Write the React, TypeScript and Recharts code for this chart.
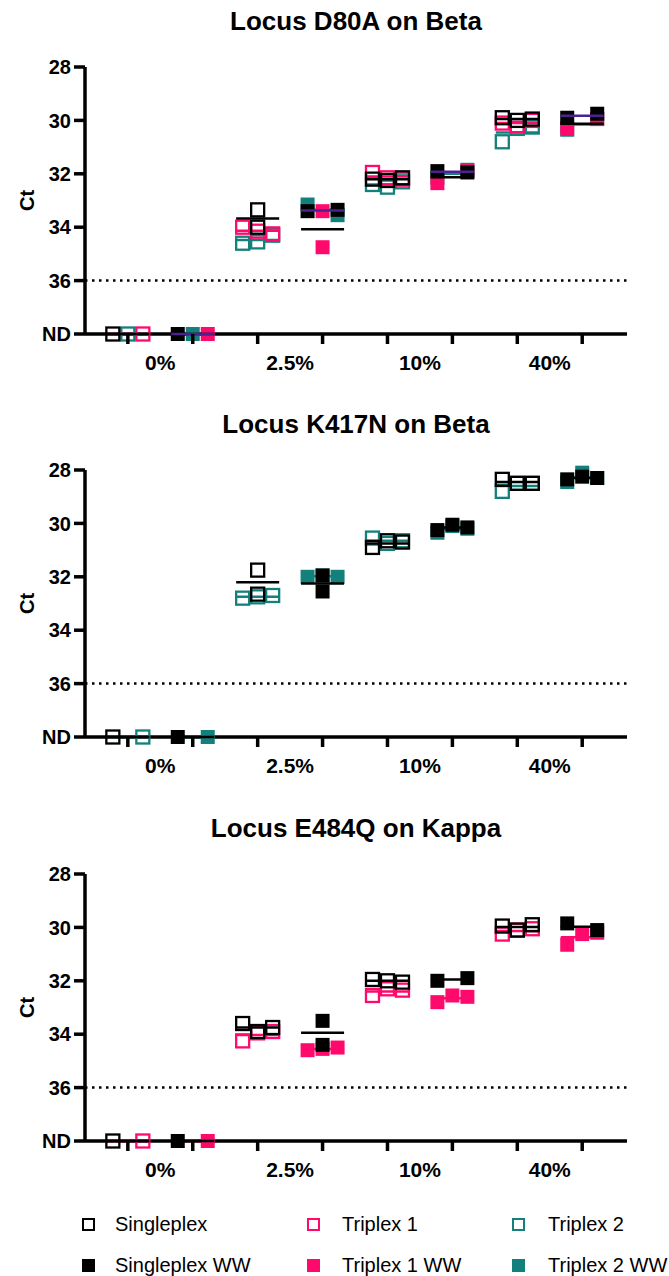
import React from "react";
import { ScatterChart, Scatter, XAxis, YAxis, ReferenceLine } from "recharts";

const categories = ["0%", "2.5%", "10%", "40%"];
const ND = 38;
const yTicks = [28, 30, 32, 34, 36, 38];
const cutoffCt = 36;

// Locus D80A on Beta  (one list per concentration)
const d80aSingleplex = [[ND], [34.0, 33.35], [32.2, 32.25, 32.15], [29.9, 30.0, 29.95]];
const d80aTriplex1 = [[ND], [34.0, 34.15, 34.25], [31.95, 32.15, 32.2], [30.1, 30.2, 30.0]];
const d80aTriplex2 = [[ND], [34.6, 34.55, 34.3], [32.4, 32.5, 32.3], [30.8, 30.3, 30.25]];
const d80aSingleplexWW = [[ND], [33.4, 33.35], [31.9, 31.95], [29.9, 29.75]];
const d80aTriplex1WW = [[ND], [33.4, 34.75], [32.35, 31.9], [30.3, 29.95]];
const d80aTriplex2WW = [[ND], [33.15, 33.55], [32.15, 31.85], [30.35, 29.95]];

// Locus K417N on Beta
const k417nSingleplex = [[ND], [31.75, 32.65], [30.9, 30.65, 30.7], [28.35, 28.5, 28.5]];
const k417nTriplex2 = [[ND], [32.8, 32.75, 32.7], [30.55, 30.75, 30.65], [28.8, 28.5, 28.5]];
const k417nSingleplexWW = [[ND], [31.95, 32.55], [30.25, 30.05, 30.15], [28.35, 28.25, 28.3]];
const k417nTriplex2WW = [[ND], [32.0, 31.95, 32.0], [30.35, 30.1, 30.2], [28.45, 28.1, 28.3]];

// Locus E484Q on Kappa
const e484qSingleplex = [[ND], [33.6, 33.9, 33.75], [31.95, 32.0, 32.05], [29.95, 30.1, 29.9]];
const e484qTriplex1 = [[ND], [34.25, 33.95, 33.9], [32.55, 32.3, 32.35], [30.25, 30.1, 30.05]];
const e484qSingleplexWW = [[ND], [33.5, 34.4], [32.0, 31.9], [29.85, 30.1]];
const e484qTriplex1WW = [[ND], [34.6, 34.55, 34.5], [32.8, 32.55, 32.6], [30.65, 30.25, 30.2]];

const BLACK = "#000000";
const PINK = "#ff0a6c";
const TEAL = "#13807c";
const PURPLE = "#4a2391";

const seriesMeta: Record<string, { name: string; color: string; ww: boolean }> = {
  singleplex: { name: "Singleplex", color: BLACK, ww: false },
  triplex1: { name: "Triplex 1", color: PINK, ww: false },
  triplex2: { name: "Triplex 2", color: TEAL, ww: false },
  singleplexWW: { name: "Singleplex WW", color: BLACK, ww: true },
  triplex1WW: { name: "Triplex 1 WW", color: PINK, ww: true },
  triplex2WW: { name: "Triplex 2 WW", color: TEAL, ww: true },
};
const legendRows = [
  ["singleplex", "triplex1", "triplex2"],
  ["singleplexWW", "triplex1WW", "triplex2WW"],
];
// side by side order for the ND points, and the drawing order (last on top)
const ndOrder = ["singleplex", "triplex2", "triplex1"];
const drawOrder = ["triplex2", "triplex2WW", "triplex1", "triplex1WW", "singleplex", "singleplexWW"];

const panels = [
  {
    title: "Locus D80A on Beta",
    top: 0,
    series: {
      singleplex: d80aSingleplex, triplex1: d80aTriplex1, triplex2: d80aTriplex2,
      singleplexWW: d80aSingleplexWW, triplex1WW: d80aTriplex1WW, triplex2WW: d80aTriplex2WW,
    } as Record<string, number[][]>,
    meanColors: { singleplexWW: PURPLE, triplex1WW: BLACK } as Record<string, string>,
  },
  {
    title: "Locus K417N on Beta",
    top: 403,
    series: {
      singleplex: k417nSingleplex, triplex2: k417nTriplex2,
      singleplexWW: k417nSingleplexWW, triplex2WW: k417nTriplex2WW,
    } as Record<string, number[][]>,
    meanColors: {} as Record<string, string>,
  },
  {
    title: "Locus E484Q on Kappa",
    top: 807,
    series: {
      singleplex: e484qSingleplex, triplex1: e484qTriplex1,
      singleplexWW: e484qSingleplexWW, triplex1WW: e484qTriplex1WW,
    } as Record<string, number[][]>,
    meanColors: {} as Record<string, string>,
  },
];

// x: subcolumn index (0..7), two per concentration (plain, WW)
const X_DOMAIN = [-0.66, 7.69];
const STEP = 0.231; // ~15px, one marker width
const xTicks = [0, 0.5, 1, 2, 2.5, 3, 4, 4.5, 5, 6, 6.5, 7];

const spread = (n: number) =>
  n === 1 ? [0] : Array.from({ length: n }, (_, i) => -1 + (2 * i) / (n - 1));

// crude beeswarm: close values of one series are put side by side
function swarm(values: number[]) {
  const order = values.map((_, i) => i).sort((a, b) => values[a] - values[b]);
  const offs = new Array(values.length).fill(0);
  let cluster: number[] = [];
  const flush = () => {
    const members = [...cluster].sort((a, b) => a - b);
    const s = spread(members.length);
    members.forEach((m, k) => (offs[m] = s[k]));
    cluster = [];
  };
  order.forEach((i) => {
    if (cluster.length && values[i] - values[cluster[cluster.length - 1]] >= 0.55) flush();
    cluster.push(i);
  });
  if (cluster.length) flush();
  return offs;
}

function layout(series: Record<string, number[][]>) {
  const points: Record<string, { x: number; y: number }[]> = {};
  const means: Record<string, { x: number; y: number }[]> = {};
  Object.keys(series).forEach((k) => {
    points[k] = [];
    means[k] = [];
  });
  categories.forEach((_, c) => {
    ["", "WW"].forEach((suf, w) => {
      const sub = 2 * c + w;
      const ndKeys = ndOrder.map((b) => b + suf).filter((k) => series[k] && series[k][c].includes(ND));
      const s = spread(ndKeys.length);
      ndKeys.forEach((k, i) => points[k].push({ x: sub + s[i] * STEP, y: ND }));
      Object.keys(series)
        .filter((k) => seriesMeta[k].ww === (w === 1))
        .forEach((k) => {
          const vals = series[k][c];
          const real = vals.filter((v) => v !== ND);
          const offs = swarm(real);
          real.forEach((v, i) => points[k].push({ x: sub + offs[i] * STEP, y: v }));
          const mean = vals.reduce((a, b) => a + b, 0) / vals.length;
          means[k].push({ x: sub, y: mean });
        });
    });
  });
  return { points, means };
}

const squareShape = (color: string, filled: boolean) => (p: any) =>
  filled ? (
    <rect x={p.cx - 7} y={p.cy - 7} width={14} height={14} fill={color} />
  ) : (
    <rect x={p.cx - 6.5} y={p.cy - 6.5} width={13} height={13} fill="none" stroke={color} strokeWidth={2.3} />
  );

const meanShape = (color: string) => (p: any) =>
  <line x1={p.cx - 21.5} x2={p.cx + 21.5} y1={p.cy} y2={p.cy} stroke={color} strokeWidth={2.5} />;

const XTick = (props: any) => {
  const { x, y, payload } = props;
  const v = payload.value;
  if (Number.isInteger(v)) {
    return <line x1={x} x2={x} y1={y - 10} y2={y} stroke="#000" strokeWidth={3.5} />;
  }
  return (
    <text x={x} y={y + 26} textAnchor="middle" fontSize={21} fontWeight={700} fill="#000">
      {categories[(v - 0.5) / 2]}
    </text>
  );
};

const Panel = ({ panel }: { panel: (typeof panels)[number] }) => {
  const { points, means } = layout(panel.series);
  const keys = drawOrder.filter((k) => panel.series[k]);
  return (
    <div style={{ position: "absolute", left: 0, top: panel.top, width: 669, height: 403 }}>
      <div
        style={{
          position: "absolute", left: 85, width: 542, top: 8, textAlign: "center",
          fontSize: 26, lineHeight: "26px", fontWeight: 700,
        }}
      >
        {panel.title}
      </div>
      <ScatterChart width={669} height={403} margin={{ top: 67, right: 42, bottom: 29, left: 25 }}>
        <XAxis
          type="number"
          dataKey="x"
          domain={X_DOMAIN}
          ticks={xTicks}
          interval={0}
          tickSize={10}
          tickMargin={0}
          tickLine={false}
          tick={XTick}
          axisLine={{ stroke: "#000", strokeWidth: 3.5 }}
          height={40}
        />
        <YAxis
          type="number"
          dataKey="y"
          domain={[28, 38]}
          reversed
          ticks={yTicks}
          interval={0}
          width={60}
          tickSize={11}
          tickMargin={3}
          tickFormatter={(v: number) => (v === ND ? "ND" : String(v))}
          tick={{ fill: "#000", fontSize: 20, fontWeight: 700 }}
          tickLine={{ stroke: "#000", strokeWidth: 3.5 }}
          axisLine={{ stroke: "#000", strokeWidth: 3.5 }}
          label={{
            value: "Ct", angle: -90, position: "insideLeft", offset: 2,
            style: { textAnchor: "middle", fontSize: 20, fontWeight: 700, fill: "#000" },
          }}
        />
        <ReferenceLine
          y={cutoffCt}
          segment={[{ x: -0.56, y: cutoffCt }, { x: 7.6, y: cutoffCt }]}
          stroke="#000"
          strokeWidth={2.5}
          strokeDasharray="2.5 4.5"
        />
        {keys.flatMap((k) => [
          <Scatter
            key={k}
            data={points[k]}
            shape={squareShape(seriesMeta[k].color, seriesMeta[k].ww)}
            isAnimationActive={false}
          />,
          <Scatter
            key={k + "-mean"}
            data={means[k]}
            shape={meanShape(panel.meanColors[k] || seriesMeta[k].color)}
            isAnimationActive={false}
          />,
        ])}
      </ScatterChart>
    </div>
  );
};

const legendX = [[88, 115], [313, 342], [518, 548]];
const legendY = [1224, 1265];

export default function App() {
  return (
    <div
      style={{
        position: "absolute", left: 0, top: 0, width: 669, height: 1276, background: "#fff",
        fontFamily: "'Liberation Sans', Arial, sans-serif", color: "#000",
      }}
    >
      {panels.map((p) => (
        <Panel key={p.title} panel={p} />
      ))}
      {legendRows.map((row, r) =>
        row.map((k, c) => {
          const m = seriesMeta[k];
          const [mx, tx] = legendX[c];
          const cy = legendY[r];
          return (
            <React.Fragment key={k}>
              <div
                style={{
                  position: "absolute", left: mx - 6.5, top: cy - 6.5, width: 13, height: 13, boxSizing: "border-box",
                  background: m.ww ? m.color : "transparent", border: m.ww ? "none" : `2.6px solid ${m.color}`,
                }}
              />
              <div style={{ position: "absolute", left: tx, top: cy - 12, fontSize: 20, lineHeight: "24px", whiteSpace: "nowrap" }}>
                {m.name}
              </div>
            </React.Fragment>
          );
        })
      )}
    </div>
  );
}
